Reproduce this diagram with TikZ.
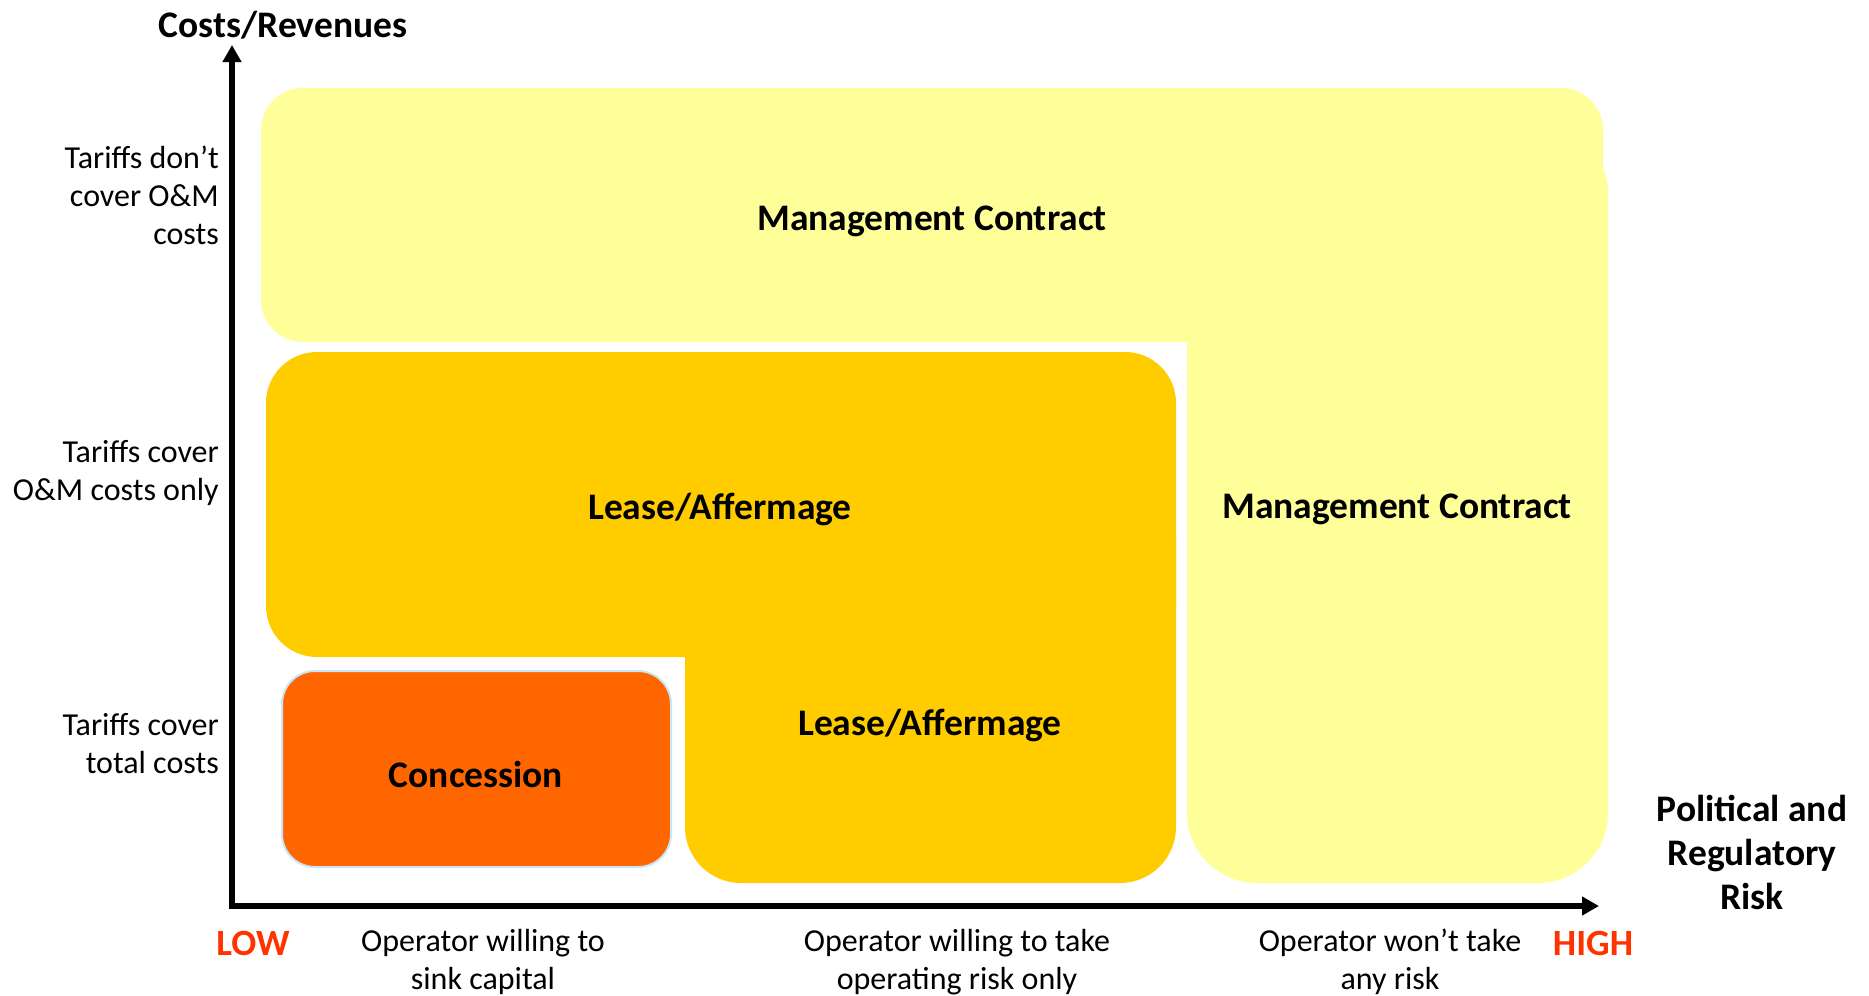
\documentclass[tikz,border=0pt]{standalone}
\usepackage{fontspec}
\setmainfont{Carlito}
\usetikzlibrary{arrows.meta}
\definecolor{lightyel}{HTML}{FFFF99}
\definecolor{leaseor}{HTML}{FFCC00}
\definecolor{concor}{HTML}{FF6600}
\definecolor{lowred}{HTML}{FF3300}
\definecolor{edgeblue}{HTML}{C9E6F8}
\begin{document}
\begin{tikzpicture}[x=1pt,y=-1pt,
  boxlabel/.style={font=\fontsize{37.5}{44}\selectfont\bfseries, align=center, inner sep=0pt},
  ylabel/.style={font=\fontsize{32}{38}\selectfont, align=right, anchor=east, inner sep=0pt},
  xlabel/.style={font=\fontsize{32}{38}\selectfont, align=center, inner sep=0pt},
  endlabel/.style={font=\fontsize{37}{44}\selectfont\bfseries, text=lowred, inner sep=0pt},
  axis/.style={line width=6pt, line join=miter, {Triangle[length=17pt,width=18pt]}-{Triangle[length=17pt,width=18pt]}}
]
\useasboundingbox (0,0) rectangle (1869,996);

% regions
\fill[lightyel, rounded corners=42pt] (261,88) rectangle (1603,342);
\fill[lightyel, rounded corners=70pt] (1187,123) rectangle (1608,883);
\fill[leaseor, rounded corners=51pt] (266,352) rectangle (1176,657);
\fill[leaseor, rounded corners=56pt] (685,480) rectangle (1176,883);
\fill[concor, draw=edgeblue, line width=2pt, rounded corners=33pt] (282,671) rectangle (671,867);

% axes
\coordinate (O) at (232,906);
\coordinate (ytip) at (232,45);
\coordinate (xtip) at (1599,906);
\draw[axis] (ytip) -- (O) -- (xtip);

% region labels
\node[boxlabel] (mc1) at (932,221) {Management Contract};
\node[boxlabel] (la1) at (720,509) {Lease/Affermage};
\node[boxlabel] (mc2) at (1397,509) {Management Contract};
\node[boxlabel] (la2) at (930,725) {Lease/Affermage};
\node[boxlabel] (con) at (476,774) {Concession};

% axis titles
\node[boxlabel] (ytitle) at (283,25) {Costs/Revenues};
\node[boxlabel] (xtitle) at (1752,852) {Political and\\Regulatory\\Risk};

% y labels
\node[ylabel] (y1) at (219,195) {Tariffs don’t\\cover O\&M\\costs};
\node[ylabel] (y2) at (219,473) {Tariffs cover\\O\&M costs only};
\node[ylabel] (y3) at (219,744) {Tariffs cover\\total costs};

% x labels
\node[endlabel] (low) at (253,943) {LOW};
\node[endlabel] (high) at (1593,943) {HIGH};
\node[xlabel] (x1) at (483,962) {Operator willing to\\sink capital};
\node[xlabel] (x2) at (957,962) {Operator willing to take\\operating risk only};
\node[xlabel] (x3) at (1390,962) {Operator won’t take\\any risk};
\end{tikzpicture}
\end{document}
